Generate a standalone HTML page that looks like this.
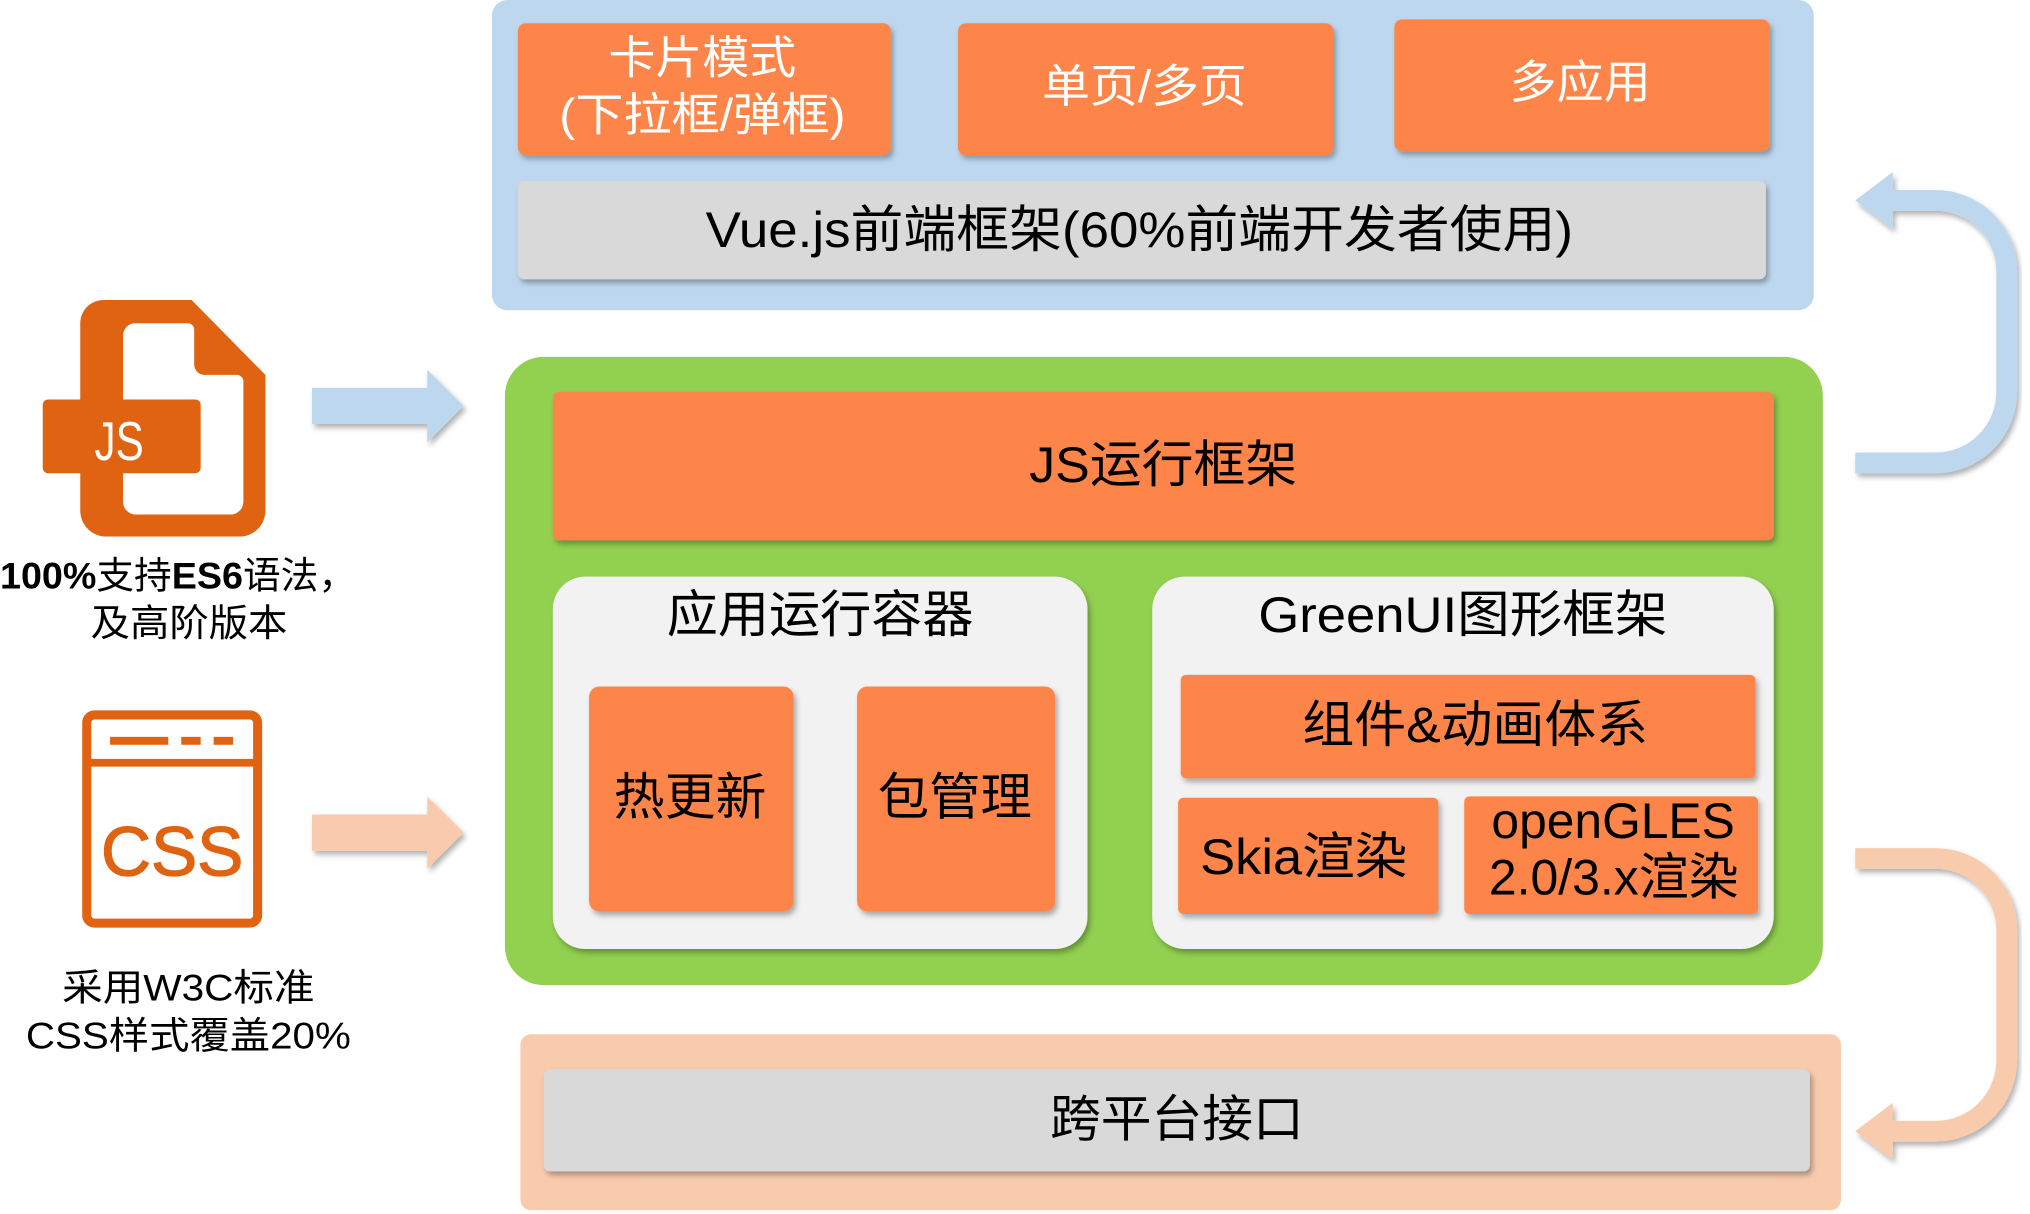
<!DOCTYPE html>
<html><head><meta charset="utf-8"><style>
html,body{margin:0;padding:0;background:#fff;}
svg{display:block;}
text{font-family:"Liberation Sans","Noto Sans CJK SC",sans-serif;}
</style></head><body>
<svg width="2030" height="1214" viewBox="0 0 1568 939" preserveAspectRatio="none" xmlns="http://www.w3.org/2000/svg">
<defs>
<filter id="sh" x="-10%" y="-10%" width="120%" height="130%"><feDropShadow dx="2" dy="3" stdDeviation="2" flood-color="#000" flood-opacity="0.3"/></filter>
</defs>
<rect x="380" y="0" width="1021" height="240" rx="12" fill="#bdd7ee"/>
<g filter="url(#sh)" fill="#fd8549">
<rect x="400" y="18" width="288" height="102" rx="6"/>
<rect x="740" y="18" width="290" height="102" rx="6"/>
<rect x="1077" y="15" width="290" height="102" rx="6"/>
</g>
<rect x="400" y="140" width="964" height="76" rx="5" fill="#d9d9d9" filter="url(#sh)"/>
<g fill="#fff" font-size="35" lengthAdjust="spacingAndGlyphs">
<text x="470" y="57" textLength="145" lengthAdjust="spacingAndGlyphs">卡片模式</text>
<text x="432" y="101" textLength="221" lengthAdjust="spacingAndGlyphs">(下拉框/弹框)</text>
<text x="805" y="79" textLength="158" lengthAdjust="spacingAndGlyphs">单页/多页</text>
<text x="1166" y="76" textLength="109" lengthAdjust="spacingAndGlyphs">多应用</text>
</g>
<text x="545" y="191" font-size="39" textLength="670" lengthAdjust="spacingAndGlyphs" fill="#000">Vue.js前端框架(60%前端开发者使用)</text>

<rect x="390" y="276" width="1018" height="486" rx="30" fill="#92d050"/>
<rect x="427" y="303" width="943" height="115" rx="5" fill="#fd8549" filter="url(#sh)"/>
<text x="795" y="373" font-size="39" textLength="207" lengthAdjust="spacingAndGlyphs" fill="#000">JS运行框架</text>
<rect x="427" y="446" width="413" height="288" rx="25" fill="#f2f2f2" filter="url(#sh)"/>
<rect x="890" y="446" width="480" height="288" rx="25" fill="#f2f2f2" filter="url(#sh)"/>
<text x="515" y="489" font-size="39" textLength="237" lengthAdjust="spacingAndGlyphs" fill="#000">应用运行容器</text>
<text x="972" y="489" font-size="39" textLength="316" lengthAdjust="spacingAndGlyphs" fill="#000">GreenUI图形框架</text>
<g fill="#fd8549" filter="url(#sh)">
<rect x="455" y="531" width="158" height="174" rx="8"/>
<rect x="662" y="531" width="153" height="174" rx="8"/>
<rect x="912" y="522" width="444" height="80" rx="4"/>
<rect x="910" y="617" width="201" height="90" rx="4"/>
<rect x="1131" y="616" width="227" height="91" rx="4"/>
</g>
<g fill="#000" font-size="39">
<text x="474" y="630" textLength="118" lengthAdjust="spacingAndGlyphs">热更新</text>
<text x="678" y="630" textLength="119" lengthAdjust="spacingAndGlyphs">包管理</text>
<text x="1006" y="574" textLength="267" lengthAdjust="spacingAndGlyphs">组件&amp;动画体系</text>
<text x="927" y="676" textLength="160" lengthAdjust="spacingAndGlyphs">Skia渲染</text>
<text x="1152" y="648" textLength="188" lengthAdjust="spacingAndGlyphs">openGLES</text>
<text x="1150" y="692" textLength="193" lengthAdjust="spacingAndGlyphs">2.0/3.x渲染</text>
</g>

<rect x="402" y="800" width="1020" height="136" rx="8" fill="#f8cbad"/>
<rect x="420" y="827" width="978" height="79" rx="5" fill="#d9d9d9" filter="url(#sh)"/>
<text x="811" y="879" font-size="39" textLength="196" lengthAdjust="spacingAndGlyphs" fill="#000">跨平台接口</text>

<g filter="url(#sh)">
<polygon points="241,300 330,300 330,286 358,314 330,342 330,328 241,328" fill="#bdd7ee"/>
<polygon points="241,630 330,630 330,616 358,644 330,672 330,658 241,658" fill="#f8cbad"/>
</g>

<g filter="url(#sh)">
<path d="M1433,358 L1495,358 A55,55 0 0 0 1550,303 L1550,210 A55,55 0 0 0 1495,155 L1462,155" fill="none" stroke="#bdd7ee" stroke-width="16"/>
<polygon points="1433,155 1462,133 1462,177" fill="#bdd7ee"/>
<path d="M1433,664 L1495,664 A55,55 0 0 1 1550,719 L1550,820 A55,55 0 0 1 1495,875 L1462,875" fill="none" stroke="#f8cbad" stroke-width="16"/>
<polygon points="1433,875 1462,853 1462,897" fill="#f8cbad"/>
</g>

<path d="M80,232 L148,232 L205,290 L205,395 A20,20 0 0 1 185,415 L82,415 A20,20 0 0 1 62,395 L62,250 A18,18 0 0 1 80,232 Z" fill="#e06311"/>
<path d="M103,250 L145,250 A5,5 0 0 1 150,255 L150,282 A8,8 0 0 0 158,290 L183,290 A5,5 0 0 1 188,295 L188,388 A10,10 0 0 1 178,398 L105,398 A10,10 0 0 1 95,388 L95,260 A10,10 0 0 1 103,250 Z" fill="#fff"/>
<rect x="33" y="309" width="122" height="57" rx="4" fill="#e06311"/>
<text x="73" y="356" font-size="42" textLength="38" lengthAdjust="spacingAndGlyphs" fill="#fff">JS</text>
<text x="0" y="455" font-size="29" textLength="275" lengthAdjust="spacingAndGlyphs" fill="#000"><tspan font-weight="bold">100%</tspan>支持<tspan font-weight="bold">ES6</tspan>语法，</text>
<text x="70" y="492" font-size="29" textLength="152" lengthAdjust="spacingAndGlyphs" fill="#000">及高阶版本</text>

<rect x="67" y="553" width="132" height="161" rx="6" fill="none" stroke="#e06311" stroke-width="7"/>
<line x1="67" y1="590" x2="199" y2="590" stroke="#e06311" stroke-width="6"/>
<line x1="85" y1="573" x2="130" y2="573" stroke="#e06311" stroke-width="6"/>
<line x1="140" y1="573" x2="155" y2="573" stroke="#e06311" stroke-width="6"/>
<line x1="165" y1="573" x2="180" y2="573" stroke="#e06311" stroke-width="6"/>
<text x="78" y="677" font-size="54" textLength="110" lengthAdjust="spacingAndGlyphs" fill="#e06311" stroke="#e06311" stroke-width="1">CSS</text>
<text x="48" y="774" font-size="29" textLength="195" lengthAdjust="spacingAndGlyphs" fill="#000">采用W3C标准</text>
<text x="20" y="811" font-size="29" textLength="251" lengthAdjust="spacingAndGlyphs" fill="#000">CSS样式覆盖20%</text>
</svg>
</body></html>
